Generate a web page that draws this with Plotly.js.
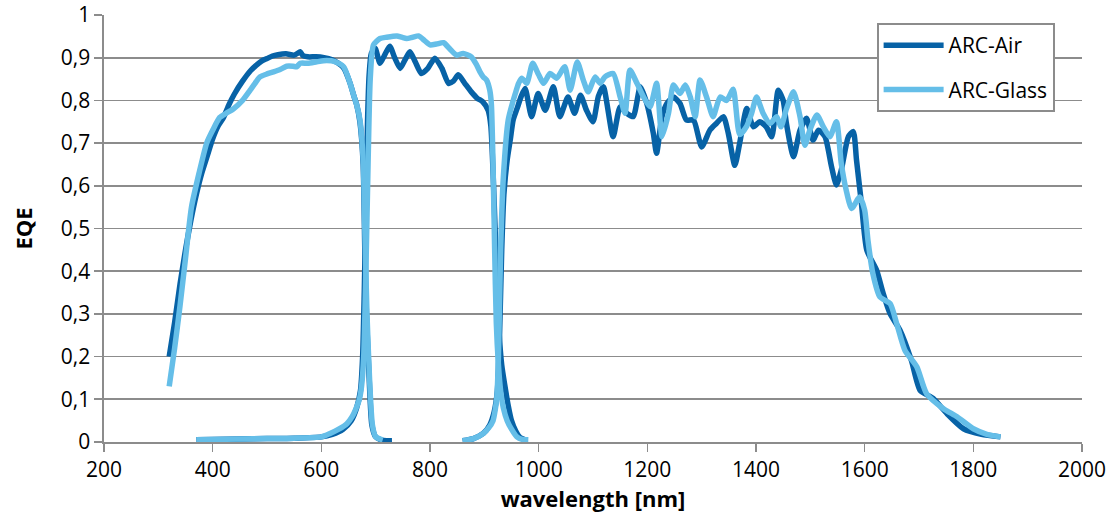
<!DOCTYPE html>
<html>
<head>
<meta charset="utf-8">
<script src="https://cdn.plot.ly/plotly-3.0.1.min.js"></script>
<style>html,body{margin:0;padding:0;background:#fff;}#chart{width:1114px;height:522px;}</style>
</head>
<body>
<div id="chart"></div>
<script>
// ARC-Air: three sub-cell segments
const airTopX = [320,330,340,350,360,370,380,390,400,410,420,430,440,455,470,480,490,500,510,520,535,550,556,561,566,575,590,605,620,630,641,653,660,665,671,677,680,683,688,693,700,710,720,730];
const airTopY = [0.20,0.28,0.37,0.45,0.52,0.58,0.63,0.67,0.71,0.74,0.76,0.79,0.815,0.845,0.87,0.882,0.892,0.898,0.904,0.907,0.909,0.906,0.910,0.914,0.905,0.902,0.902,0.900,0.895,0.888,0.876,0.84,0.81,0.79,0.75,0.65,0.45,0.30,0.15,0.04,0.012,0.005,0.003,0.003];
const airMidX = [370,400,450,500,550,600,620,640,655,665,672,676,679,682,685,688,692,699,708,716,726,735,745,754,763,773,784,796,809,822,834,843,852,864,876,887,897,907,912,917,922,927,932,938,944,950,958,966,975];
const airMidY = [0.005,0.006,0.007,0.008,0.009,0.012,0.018,0.03,0.05,0.08,0.12,0.2,0.35,0.55,0.75,0.86,0.91,0.922,0.887,0.905,0.927,0.90,0.875,0.895,0.914,0.89,0.863,0.875,0.899,0.875,0.84,0.845,0.86,0.84,0.82,0.805,0.797,0.777,0.74,0.6,0.42,0.26,0.18,0.13,0.085,0.05,0.025,0.01,0.005];
const airBotX = [860,880,898,910,918,924,928,932,936,942,948,953,960,968,975,987,999,1012,1027,1039,1054,1066,1077,1088,1100,1110,1119,1137,1150,1162,1174,1187,1199,1211,1217,1227,1236,1248,1260,1272,1285,1300,1315,1327,1340,1349,1361,1370,1383,1395,1407,1419,1429,1441,1450,1456,1469,1481,1493,1505,1515,1527,1539,1548,1557,1570,1579,1585,1594,1604,1622,1634,1647,1665,1686,1702,1726,1751,1782,1815,1850];
const airBotY = [0.003,0.008,0.02,0.04,0.07,0.12,0.25,0.45,0.58,0.66,0.71,0.754,0.78,0.81,0.828,0.762,0.816,0.777,0.832,0.762,0.808,0.77,0.812,0.777,0.75,0.81,0.832,0.715,0.785,0.77,0.762,0.832,0.793,0.723,0.676,0.762,0.793,0.808,0.793,0.754,0.754,0.691,0.73,0.746,0.762,0.723,0.648,0.70,0.781,0.738,0.75,0.738,0.715,0.824,0.80,0.746,0.668,0.73,0.758,0.707,0.73,0.715,0.645,0.602,0.637,0.715,0.727,0.66,0.559,0.449,0.402,0.348,0.30,0.262,0.191,0.121,0.102,0.067,0.031,0.018,0.012];

// ARC-Glass: three sub-cell segments
const glassTopX = [320,330,340,350,361,375,389,400,413,425,438,455,469,478,487,500,512,525,536,548,555,561,575,590,604,625,641,653,660,665,671,677,680,684,689,694,700,713];
const glassTopY = [0.13,0.22,0.32,0.43,0.55,0.63,0.70,0.73,0.76,0.77,0.78,0.80,0.824,0.84,0.855,0.862,0.867,0.873,0.880,0.880,0.879,0.887,0.887,0.890,0.893,0.891,0.879,0.84,0.81,0.79,0.755,0.66,0.5,0.3,0.14,0.04,0.012,0.005];
const glassMidX = [370,400,450,500,550,600,616,632,647,657,665,670,674,678,682,686,690,696,708,720,739,748,757,768,779,790,800,812,825,837,849,861,876,885,892,898,904,910,913,916,919,922,926,930,935,942,950,960,970,981];
const glassMidY = [0.005,0.006,0.007,0.008,0.009,0.012,0.02,0.03,0.043,0.06,0.082,0.1,0.13,0.2,0.4,0.65,0.85,0.93,0.945,0.948,0.951,0.948,0.945,0.948,0.951,0.94,0.93,0.932,0.935,0.92,0.906,0.91,0.902,0.885,0.867,0.855,0.848,0.824,0.79,0.65,0.45,0.28,0.18,0.12,0.08,0.05,0.03,0.012,0.006,0.005];
const glassBotX = [860,880,898,908,916,920,923,926,930,935,944,951,957,963,969,978,989,1000,1009,1021,1033,1048,1058,1071,1082,1091,1104,1113,1122,1137,1150,1159,1168,1181,1193,1205,1217,1227,1239,1248,1260,1270,1279,1288,1297,1309,1321,1334,1346,1358,1370,1383,1392,1401,1413,1426,1438,1446,1456,1469,1481,1490,1499,1512,1524,1536,1548,1557,1566,1576,1591,1600,1606,1615,1628,1647,1659,1674,1696,1714,1745,1770,1800,1825,1850];
const glassBotY = [0.003,0.008,0.02,0.033,0.05,0.075,0.105,0.2,0.45,0.62,0.754,0.79,0.816,0.84,0.852,0.84,0.887,0.86,0.84,0.863,0.852,0.879,0.824,0.89,0.848,0.82,0.855,0.84,0.855,0.863,0.808,0.77,0.871,0.84,0.808,0.785,0.84,0.715,0.77,0.836,0.816,0.836,0.808,0.762,0.848,0.808,0.762,0.808,0.80,0.826,0.72,0.74,0.77,0.808,0.77,0.746,0.762,0.738,0.78,0.82,0.762,0.695,0.73,0.766,0.738,0.715,0.75,0.652,0.59,0.547,0.574,0.543,0.473,0.395,0.34,0.324,0.277,0.215,0.176,0.113,0.078,0.059,0.031,0.018,0.012];

const seriesNames = ['ARC-Air', 'ARC-Glass'];

function join(parts) {
  const out = [];
  parts.forEach((p, i) => { if (i) out.push(null); out.push(...p); });
  return out;
}

const airColor = '#0762a6';
const glassColor = '#65bee8';
const fontFam = '"Open Sans", Lato, sans-serif';

const traces = [
  {
    x: join([airTopX, airMidX, airBotX]),
    y: join([airTopY, airMidY, airBotY]),
    name: seriesNames[0], legendgroup: 'a', mode: 'lines', connectgaps: false,
    line: {color: airColor, width: 5.5, shape: 'spline', smoothing: 0.6}
  },
  {
    x: join([glassTopX, glassMidX, glassBotX]),
    y: join([glassTopY, glassMidY, glassBotY]),
    name: seriesNames[1], legendgroup: 'g', mode: 'lines', connectgaps: false,
    line: {color: glassColor, width: 5.5, shape: 'spline', smoothing: 0.6}
  }
];

const gridC = '#8c8c8c';
const layout = {
  width: 1114, height: 522,
  margin: {l: 104, r: 32, t: 15, b: 80, pad: 0},
  paper_bgcolor: '#fff', plot_bgcolor: '#fff',
  separators: ', ',
  font: {family: fontFam, size: 21, color: '#000'},
  showlegend: true,
  legend: {
    x: 0.79, y: 0.981, xanchor: 'left', yanchor: 'top',
    bgcolor: '#fff', bordercolor: gridC, borderwidth: 2,
    font: {family: fontFam, size: 21, color: '#000'},
    traceorder: 'grouped', tracegroupgap: 14, itemwidth: 60
  },
  xaxis: {
    range: [200, 2000], dtick: 200, tick0: 200,
    showgrid: false, zeroline: false,
    showline: true, linecolor: gridC, linewidth: 1.6,
    ticks: 'outside', ticklen: 8, tickwidth: 1.6, tickcolor: gridC,
    tickfont: {size: 21},
    title: {text: '<b>wavelength [nm]</b>', font: {size: 22}, standoff: 8}
  },
  yaxis: {
    range: [0, 1], dtick: 0.1, tick0: 0,
    showgrid: true, gridcolor: gridC, gridwidth: 1.6, zeroline: false,
    showline: true, linecolor: gridC, linewidth: 1.6,
    ticks: 'outside', ticklen: 8, tickwidth: 1.6, tickcolor: gridC,
    tickfont: {size: 21},
    title: {text: '<b>EQE</b>', font: {size: 22}, standoff: 22}
  }
};

Plotly.newPlot('chart', traces, layout, {displayModeBar: false, staticPlot: true});
</script>
</body>
</html>
